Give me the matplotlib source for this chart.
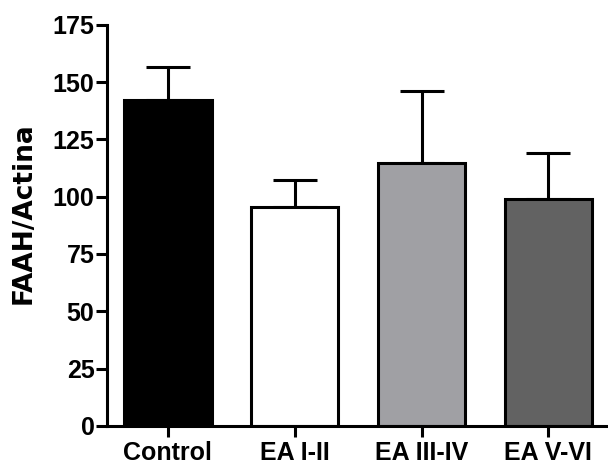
import matplotlib
matplotlib.use("Agg")
import matplotlib.pyplot as plt
import numpy as np

# values
groups = ["Control", "EA I-II", "EA III-IV", "EA V-VI"]
means = [142, 95.5, 114.5, 99]
errs = [14.5, 12, 31.5, 20]
colors = ["#000000", "#ffffff", "#a0a0a4", "#626262"]
yticks = [0, 25, 50, 75, 100, 125, 150, 175]

plt.rcParams["font.family"] = ["Liberation Sans", "DejaVu Sans"]
plt.rcParams["font.weight"] = "bold"

fig = plt.figure(figsize=(6.08, 4.68), dpi=100)
ax = fig.add_axes([0.176, 0.09, 0.824, 0.857])

x = np.arange(len(groups))
ax.bar(x, means, width=0.69, color=colors, edgecolor="black", linewidth=2.2, zorder=2)
ax.errorbar(x, means, yerr=[np.zeros(len(errs)), errs], fmt="none", ecolor="black",
            elinewidth=2.2, capsize=15.5, capthick=2.2, zorder=1)

ax.set_ylim(0, 175)
ax.set_xlim(-0.48, 3.47)
ax.set_yticks(yticks)
ax.set_xticks(x)
ax.set_xticklabels(groups)
ax.spines["top"].set_visible(False)
ax.spines["right"].set_visible(False)
ax.spines["left"].set_linewidth(2.2)
ax.spines["bottom"].set_linewidth(2.2)
ax.tick_params(axis="both", width=2.2, length=8, labelsize=18)
ax.tick_params(axis="y", pad=1)
ax.tick_params(axis="x", pad=3)
ax.set_ylabel("FAAH/Actina", fontsize=19, fontweight="bold", family="DejaVu Sans")
ax.yaxis.set_label_coords(-0.14, 0.53)

fig.savefig("out.png", dpi=100)
